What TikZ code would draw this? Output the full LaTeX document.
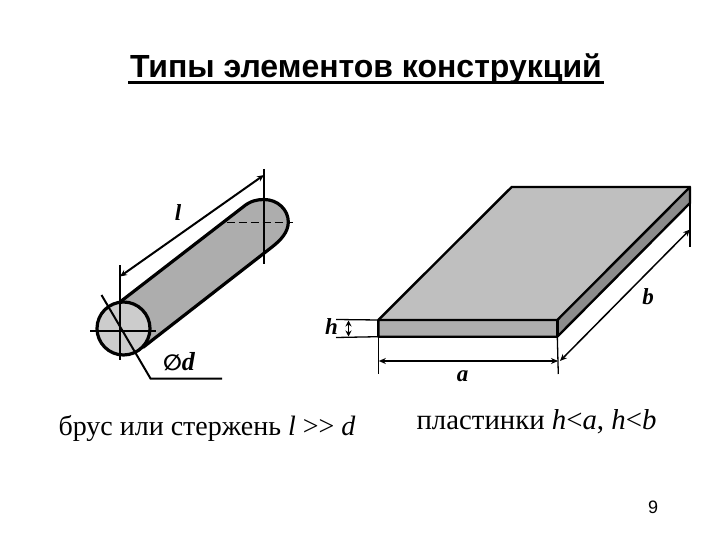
\documentclass[tikz,border=0pt]{standalone}
\usepackage{fontspec}
\setmainfont{Liberation Serif}
\newfontfamily\arialf{Liberation Sans}
\usetikzlibrary{arrows.meta}
\definecolor{topgray}{gray}{0.75}
\definecolor{sidegray}{gray}{0.68}
\definecolor{capgray}{gray}{0.8}
\tikzset{
 thick line/.style={line width=3.2pt,line join=round},
 plate line/.style={line width=2.4pt,line join=round},
 thin line/.style={line width=1.8pt},
 dim line/.style={line width=2pt,{Stealth[length=7pt,width=6pt]}-{Stealth[length=7pt,width=6pt]}},
 ital label/.style={font=\fontsize{23}{25}\selectfont\bfseries\itshape,inner sep=0pt},
 caption text/.style={font=\fontsize{28}{30}\selectfont,inner sep=0pt,anchor=base},
}
\begin{document}
\begin{tikzpicture}[x=1pt,y=-1pt]
\useasboundingbox (0,0) rectangle (720,540);
\fill[white] (0,0) rectangle (720,540);
% title
\node[font=\arialf\fontsize{32}{34}\selectfont\bfseries,inner sep=0pt,anchor=base] (title) at (366,78) {Типы элементов конструкций};
\coordinate (ulL) at (128,82.5); \coordinate (ulR) at (604,82.5);
\draw[line width=2.2pt] (ulL) -- (ulR);
% bar
\coordinate (ct) at (120,302); \coordinate (cb) at (143.5,347);
\coordinate (et) at (243,207); \coordinate (eb) at (272,247);
\draw[thick line,fill=sidegray] (ct) -- (et) .. controls (250,201) and (257,199.5) .. (264,199.5) .. controls (278,199.5) and (288.3,210) .. (288.3,222) .. controls (288.3,232) and (281,240) .. (eb) -- (cb) -- cycle;
\draw[thick line,fill=capgray] (123.5,328.5) circle (26.5);
% bar dims
\coordinate (l1a) at (120,265); \coordinate (l1b) at (120,360);
\coordinate (l2a) at (264,169); \coordinate (l2b) at (264,264);
\draw[thin line] (l1a) -- (l1b);
\draw[thin line] (l2a) -- (l2b);
\coordinate (la) at (120,276.5); \coordinate (lb) at (264,175);
\draw[dim line] (la) -- (lb);
\coordinate (h1) at (90,331); \coordinate (h2) at (156,331);
\draw[thin line] (h1) -- (h2);
\coordinate (d1) at (226.5,222.5); \coordinate (d2) at (293,222.5);
\draw[thin line,dash pattern=on 8pt off 4pt] (d1) -- (d2);
\coordinate (p1) at (101.5,295); \coordinate (p2) at (150.5,378.5); \coordinate (p3) at (222,378.5);
\draw[line width=2pt] (p1) -- (p2) -- (p3);
\node[ital label] (ll) at (178,213) {l};
\node[ital label,font=\fontsize{26}{28}\selectfont\bfseries\itshape] (dd) at (179,362) {\mbox{\fontspec{DejaVu Sans}\fontsize{22}{24}\selectfont\itshape ∅}d};
% plate
\coordinate (A) at (378.3,320); \coordinate (B) at (557.3,320); \coordinate (C) at (690,187); \coordinate (D) at (511.7,187);
\coordinate (A2) at (378.3,336.7); \coordinate (B2) at (557.3,336.7); \coordinate (C2) at (690,203);
\fill[topgray] (A) -- (B) -- (C) -- (D) -- cycle;
\fill[sidegray] (A) -- (B) -- (B2) -- (A2) -- cycle;
\fill[gray!90] (B) -- (C) -- (C2) -- (B2) -- cycle;
\draw[plate line] (A) -- (D) -- (C);
\draw[plate line] (A) -- (B) -- (C) -- (C2) -- (B2) -- (A2) -- cycle;
\draw[plate line] (B) -- (B2);
% plate dims
\coordinate (e1) at (336,319.5); \coordinate (e2) at (336,337.5);
\draw[line width=1.3pt] (e1) -- (A); \draw[line width=1.3pt] (e2) -- (A2);
\coordinate (h3) at (348.5,320.5); \coordinate (h4) at (348.5,336.5);
\draw[line width=1.7pt,{Stealth[length=6pt,width=6pt]}-{Stealth[length=6pt,width=6pt]}] (h3) -- (h4);
\coordinate (a1) at (378.3,374); \coordinate (a2) at (558.3,374);
\draw[line width=1.3pt] (A2) -- (a1); \draw[line width=1.3pt] (B2) -- (a2);
\coordinate (aa) at (378.8,361); \coordinate (ab) at (558,361);
\draw[dim line] (aa) -- (ab);
\coordinate (b1) at (560,361); \coordinate (b2) at (690,229.5); \coordinate (c3) at (690,247);
\draw[line width=1.5pt,{Stealth[length=7pt,width=6pt]}-{Stealth[length=7pt,width=6pt]}] (b1) -- (b2);
\draw[line width=1.3pt] (C) -- (c3);
\node[ital label] (hl) at (331.5,327) {h};
\node[ital label] (al) at (462.5,376.5) {a};
\node[ital label] (bl) at (648,297) {b};
% captions
\node[caption text] (cap1) at (207,435) {брус или стержень \textit{l} >{}> \textit{d}};
\node[caption text,font=\fontsize{28.8}{30}\selectfont] (cap2) at (536.5,429) {пластинки \textit{h}<\textit{a}, \textit{h}<\textit{b}};
\node[font=\arialf\fontsize{18}{20}\selectfont,inner sep=0pt] (num) at (653,507) {9};
\end{tikzpicture}
\end{document}
